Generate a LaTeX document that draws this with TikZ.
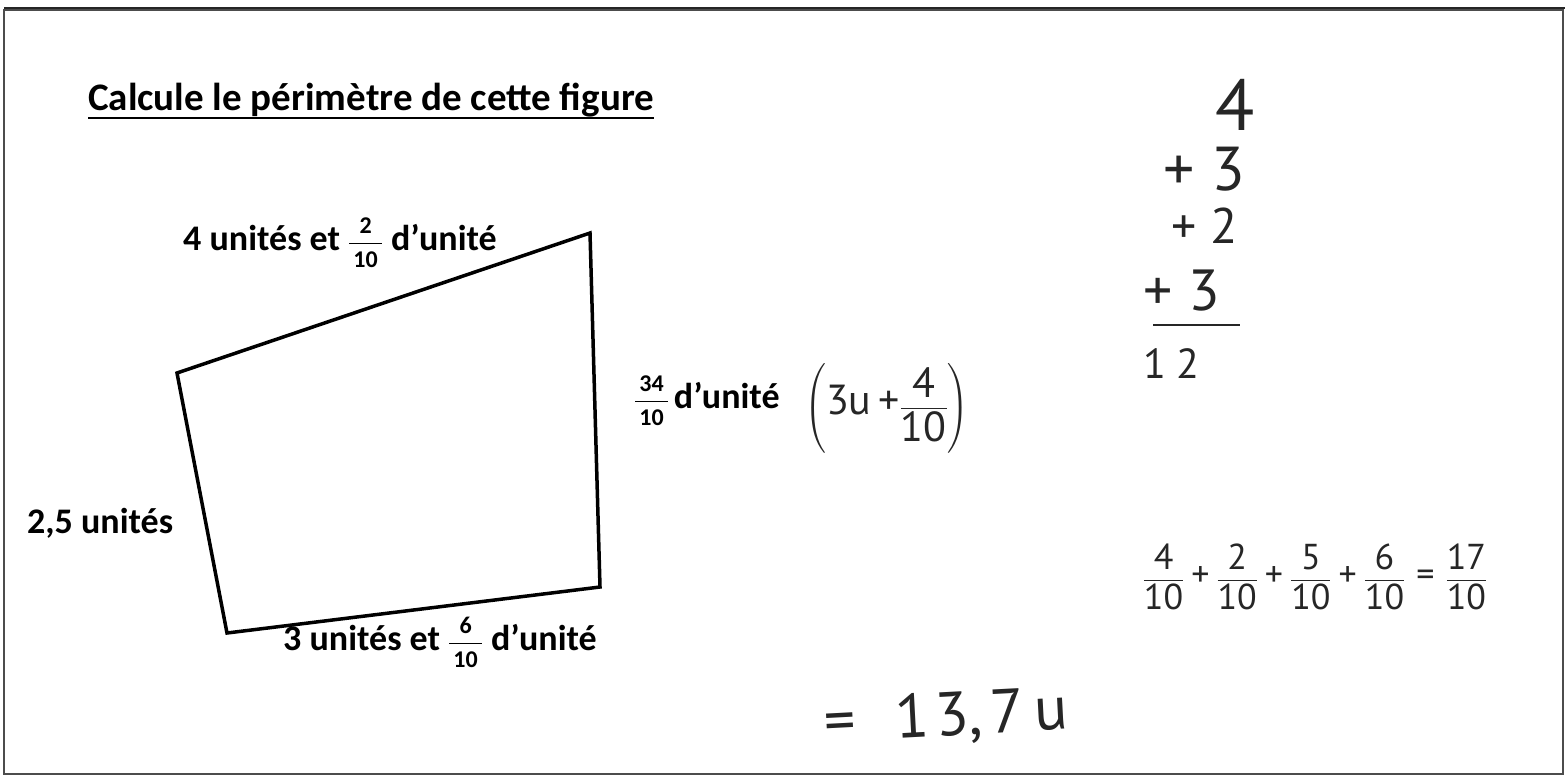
\documentclass[tikz,border=0pt]{standalone}
\usepackage{amsmath}
\usepackage{fontspec}
\setmainfont{Carlito}
\newfontfamily\mainfont{PT Sans}
\newcommand{\petit}[1]{\text{\fontsize{24}{24}\selectfont\,#1\,}}
\newcommand{\pfr}[2]{\dfrac{\petit{#1}}{\petit{#2}}}
\newcommand{\gfr}[2]{\dfrac{\text{#1}}{\text{#2}}}

\begin{document}
\begin{tikzpicture}[x=1pt,y=-1pt,
    etiq/.style={font=\bfseries\fontsize{36}{40}\selectfont, inner sep=0pt, anchor=base west},
    ecrit/.style={font=\mainfont\fontsize{#1}{#1}\selectfont, inner sep=0pt, text=black!85}]
    \useasboundingbox (0,0) rectangle (1565,777);

    % Cadre
    \draw[line width=2.5pt, black!70] (4,10) rectangle (1563,774);
    \draw[line width=2pt, black!85] (4,8) -- (1565,8);

    % Titre souligne
    \node[etiq, font=\bfseries\fontsize{39}{42}\selectfont] (titre) at (88,110) {Calcule le périmètre de cette figure};
    \draw[line width=2.5pt] ([yshift=-8pt]titre.base west) -- ([yshift=-8pt]titre.base east);

    % Quadrilatere
    \coordinate (A) at (177,373);
    \coordinate (B) at (590,233);
    \coordinate (C) at (600,587);
    \coordinate (D) at (227,633);
    \draw[line width=3.5pt] (A) -- (B) -- (C) -- (D) -- cycle;

    % Longueurs des cotes
    \node[etiq] (haut) at (183,250) {4 unités et $\pfr{2}{10}$\ d’unité};
    \node[etiq] (droite) at (634,408) {$\pfr{34}{10}$\hspace{5pt}d’unité};
    \node[etiq] (gauche) at (27,533) {2,5 unités};
    \node[etiq] (bas) at (283,650) {3 unités et $\pfr{6}{10}$\ d’unité};

    % Ecriture de l'eleve
    \node[ecrit=42] (decomp) at (887,408) {$\left(\text{3u\,+}\gfr{4}{10}\right)$};

    % Addition des unites
    \node[ecrit=72, anchor=base east] (l1) at (1255,130) {4};
    \node[ecrit=62, anchor=base east] (l2) at (1245,190) {+ 3};
    \node[ecrit=50, anchor=base east] (l3) at (1238,243) {+ 2};
    \node[ecrit=58, anchor=base east] (l4) at (1220,310) {+ 3};
    \coordinate (t1) at (1153,325);
    \coordinate (t2) at (1240,325);
    \draw[line width=2pt, black!85] (t1) -- (t2);
    \node[ecrit=42, anchor=base west] (total) at (1143,378) {1\hspace{10pt}2};

    % Addition des dixiemes
    \node[ecrit=36] (dixiemes) at (1315,577) {$\gfr{4}{10}\;\text{+}\;\gfr{2}{10}\;\text{+}\;\gfr{5}{10}\;\text{+}\;\gfr{6}{10}\;\,\text{=}\;\,\gfr{17}{10}$};

    % Resultat
    \node[ecrit=62, anchor=base west, rotate=3] (resultat) at (825,742) {=\hspace{40pt}1\hspace{6pt}3,\hspace{8pt}7\hspace{10pt}u};
\end{tikzpicture}
\end{document}
